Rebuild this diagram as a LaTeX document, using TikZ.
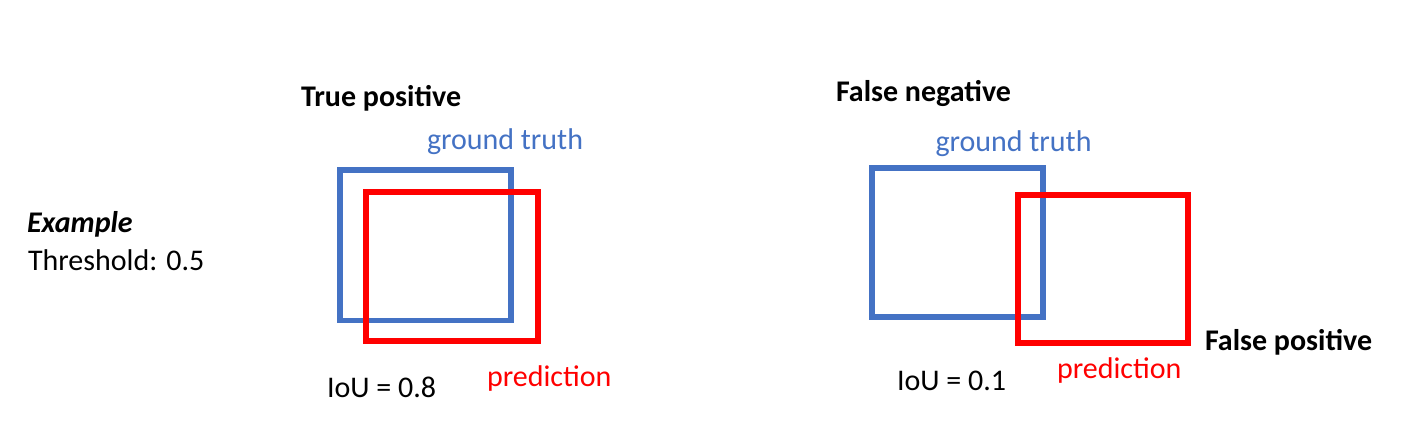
\documentclass[tikz,border=0pt]{standalone}
\usepackage{fontspec}
\setmainfont{Carlito}
\definecolor{gtblue}{HTML}{4472C4}
\definecolor{predred}{HTML}{FF0000}
\tikzset{
  txt/.style={anchor=base west, inner sep=0pt, outer sep=0pt, font=\fontsize{30bp}{36bp}\selectfont},
  hdr/.style={txt, font=\fontsize{30bp}{36bp}\selectfont\bfseries},
  gtbox/.style={draw=gtblue, line width=5.7bp},
  predbox/.style={draw=predred, line width=6bp},
}
\begin{document}
\begin{tikzpicture}[x=1bp,y=-1bp]
\useasboundingbox (0,0) rectangle (1401,439);
% left label
\node[txt, font=\fontsize{30bp}{36bp}\selectfont\bfseries\itshape] (ex) at (27,233) {Example};
\node[txt] (thr) at (28,271) {Threshold: 0.5};
% True positive panel
\node[hdr] (tp) at (301,106.5) {True positive};
\node[txt, text=gtblue] (gt1) at (427,150) {ground truth};
\draw[gtbox] (340,170) rectangle (511,320.5);
\draw[predbox] (366,192) rectangle (538,341);
\node[txt] (iou1) at (327,397.5) {IoU = 0.8};
\node[txt, text=predred] (pr1) at (487,386.5) {prediction};
% False negative panel
\node[hdr] (fn) at (836,101.5) {False negative};
\node[txt, text=gtblue] (gt2) at (935.5,151.5) {ground truth};
\draw[gtbox] (872,168) rectangle (1043,316.7);
\draw[predbox] (1017.5,194.7) rectangle (1188,343);
\node[hdr] (fp) at (1205,350.5) {False positive};
\node[txt] (iou2) at (897,390) {IoU = 0.1};
\node[txt, text=predred] (pr2) at (1057,378.3) {prediction};
\end{tikzpicture}
\end{document}
